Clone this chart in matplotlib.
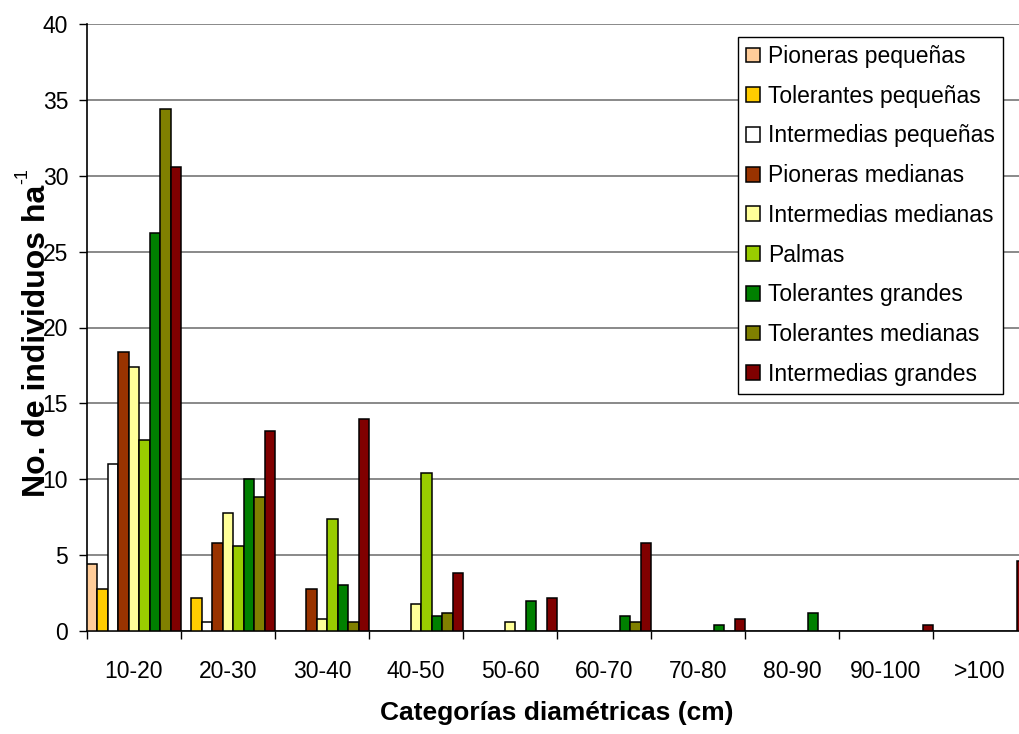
import matplotlib
matplotlib.use("Agg")
from matplotlib import pyplot as plt
import numpy as np

plt.rcParams['font.family'] = ['Liberation Sans', 'DejaVu Sans']

categories = ["10-20", "20-30", "30-40", "40-50", "50-60",
              "60-70", "70-80", "80-90", "90-100", ">100"]

series_names = ["Pioneras pequeñas", "Tolerantes pequeñas", "Intermedias pequeñas",
                "Pioneras medianas", "Intermedias medianas", "Palmas",
                "Tolerantes grandes", "Tolerantes medianas", "Intermedias grandes"]

pioneras_peq = [4.4, 0, 0, 0, 0, 0, 0, 0, 0, 0]
tolerantes_peq = [2.8, 2.2, 0, 0, 0, 0, 0, 0, 0, 0]
intermedias_peq = [11.0, 0.6, 0, 0, 0, 0, 0, 0, 0, 0]
pioneras_med = [18.4, 5.8, 2.8, 0, 0, 0, 0, 0, 0, 0]
intermedias_med = [17.4, 7.8, 0.8, 1.8, 0.6, 0, 0, 0, 0, 0]
palmas = [12.6, 5.6, 7.4, 10.4, 0, 0, 0, 0, 0, 0]
tolerantes_gr = [26.2, 10.0, 3.0, 1.0, 2.0, 1.0, 0.4, 1.2, 0, 0]
tolerantes_med = [34.4, 8.8, 0.6, 1.2, 0, 0.6, 0, 0, 0, 0]
intermedias_gr = [30.6, 13.2, 14.0, 3.8, 2.2, 5.8, 0.8, 0, 0.4, 4.6]

series = [pioneras_peq, tolerantes_peq, intermedias_peq, pioneras_med,
          intermedias_med, palmas, tolerantes_gr, tolerantes_med, intermedias_gr]

colors = ["#FFCC99", "#FFCC00", "#FFFFFF", "#993300", "#FFFF99",
          "#99CC00", "#008000", "#808000", "#800000"]

fig = plt.figure(figsize=(10.19, 7.34), dpi=100)
# plot area runs past the right edge of the picture (last group is cut off)
ax = fig.add_axes([87/1019, 103/734, 940/1019, 607/734])

n = len(series)
w = 1.0 / n
x = np.arange(len(categories))
for i, (vals, col, name) in enumerate(zip(series, colors, series_names)):
    vals = np.array(vals, dtype=float)
    pos = x - 0.5 + w * (i + 0.5)
    m = vals > 0
    ax.bar(pos[m], vals[m], width=w, color=col, edgecolor="black",
           linewidth=1.1, zorder=3)
    # dummy handle for the legend
    ax.bar([np.nan], [np.nan], color=col, edgecolor="black", linewidth=1.1, label=name)

ax.set_xlim(-0.5, len(categories) - 0.5)
ax.set_ylim(0, 40)
ax.set_yticks(np.arange(0, 41, 5))
ax.yaxis.grid(True, color="#808080", linewidth=1.3, zorder=0)
ax.set_axisbelow(True)

# group separators as major ticks, labels on minor ticks at group centres
ax.set_xticks(np.arange(len(categories) + 1) - 0.5)
ax.set_xticklabels([])
ax.set_xticks(x, minor=True)
ax.set_xticklabels(categories, minor=True)
ax.tick_params(axis="x", which="major", length=6, width=1, direction="out")
ax.tick_params(axis="x", which="minor", length=0, pad=21, labelsize=16.5)
ax.tick_params(axis="y", length=5.5, width=1, direction="out", pad=8, labelsize=16.5)

for s in ["top", "right"]:
    ax.spines[s].set_visible(False)
ax.spines["left"].set_linewidth(1.2)
ax.spines["bottom"].set_linewidth(1.2)

ax.set_xlabel("Categorías diamétricas (cm)", fontsize=19, fontweight="bold")
ax.xaxis.set_label_coords(0.5, -0.115)

# y title with a small "-1" written after it
ylab = fig.text(45/1019, 1 - 497/734, "No. de individuos ha", rotation=90,
                rotation_mode="anchor", ha="left", va="baseline",
                fontsize=23, fontweight="bold")
fig.canvas.draw()
bb = ylab.get_window_extent()
fig.text(27/1019, (bb.y1 + 1) / 734, "-1", rotation=90, rotation_mode="anchor",
         ha="left", va="baseline", fontsize=13)

leg = ax.legend(loc="upper left", bbox_to_anchor=(738/1019, 1 - 37/734),
                bbox_transform=fig.transFigure, fontsize=16.5, frameon=True,
                fancybox=False, edgecolor="black", framealpha=1,
                handlelength=0.62, handleheight=0.62, handletextpad=0.35,
                labelspacing=0.73, borderpad=0.35, borderaxespad=0)
leg.get_frame().set_linewidth(1.0)

fig.savefig("out.png", dpi=100)
